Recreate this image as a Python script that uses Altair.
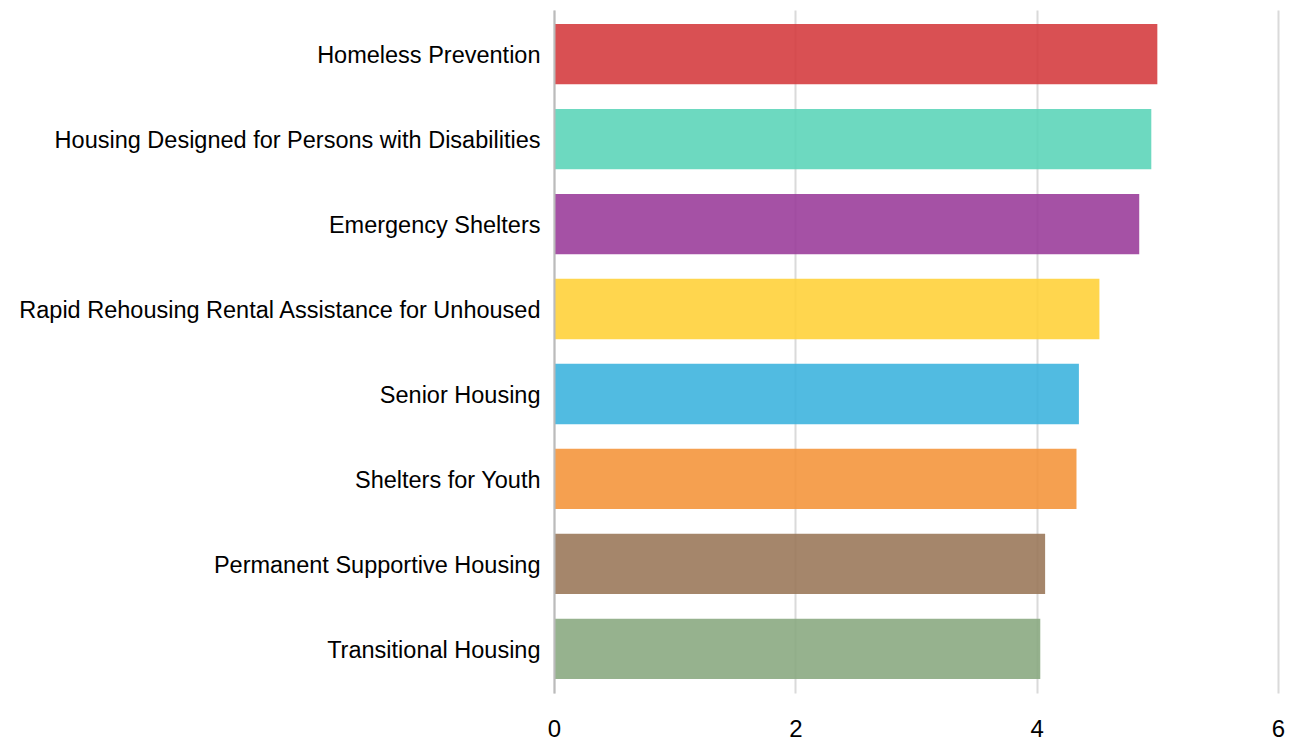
import altair as alt
import pandas as pd

categories = [
    "Homeless Prevention",
    "Housing Designed for Persons with Disabilities",
    "Emergency Shelters",
    "Rapid Rehousing Rental Assistance for Unhoused",
    "Senior Housing",
    "Shelters for Youth",
    "Permanent Supportive Housing",
    "Transitional Housing",
]
values = [5.0, 4.95, 4.85, 4.52, 4.35, 4.33, 4.07, 4.03]
colors = ["#D4383B", "#59D4B7", "#993999", "#FFD035", "#39B2DD", "#F49338", "#987556", "#88A77E"]

df = pd.DataFrame({"category": categories, "value": values})

FONT = "Liberation Sans"

chart = alt.Chart(df).mark_bar(opacity=0.88).encode(
    y=alt.Y("category:N", sort=categories, title=None,
            scale=alt.Scale(paddingInner=0.29, paddingOuter=0.165),
            axis=alt.Axis(labelFont=FONT, labelFontSize=23.5, labelColor="#000",
                          labelPadding=14, labelOffset=2, ticks=False, domain=True,
                          domainColor="#bbb", domainWidth=2, grid=False, labelLimit=0,
                          minExtent=546, maxExtent=546, zindex=1)),
    x=alt.X("value:Q", title=None,
            scale=alt.Scale(domain=[0, 6], nice=False),
            axis=alt.Axis(values=[0, 2, 4, 6], format="d", labelFont=FONT,
                          labelFontSize=24, labelColor="#000", labelPadding=24, ticks=False,
                          labelFlush=False,
                          domain=False, grid=True, gridColor="#dadada",
                          gridWidth=2, zindex=0)),
    color=alt.Color("category:N", sort=categories,
                    scale=alt.Scale(domain=categories, range=colors), legend=None),
).properties(
    width=724, height=683, padding={"left": 0, "top": 2, "right": 0, "bottom": 0}
).configure_view(stroke=None)

chart.save("out.html", embed_options={"renderer": "svg", "actions": False})
